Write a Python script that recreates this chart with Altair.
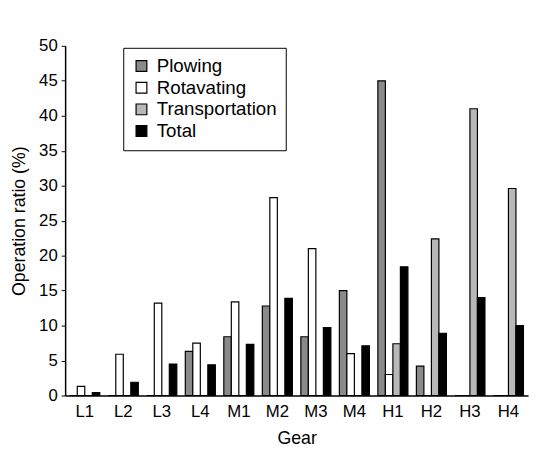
import altair as alt
import pandas as pd

gears = ["L1", "L2", "L3", "L4", "M1", "M2", "M3", "M4", "H1", "H2", "H3", "H4"]
series = ["Plowing", "Rotavating", "Transportation", "Total"]
plowing = [0, 0, 0, 6.3, 8.4, 12.8, 8.4, 15.0, 45.0, 4.2, 0, 0]
rotavating = [1.3, 5.9, 13.2, 7.5, 13.4, 28.3, 21.0, 6.0, 3.0, 0, 0, 0]
transportation = [0, 0, 0, 0, 0, 0, 0, 0, 7.4, 22.4, 41.0, 29.6]
total = [0.4, 1.9, 4.5, 4.4, 7.3, 13.9, 9.7, 7.1, 18.4, 8.9, 14.0, 10.0]

rows = []
for name, vals in zip(series, [plowing, rotavating, transportation, total]):
    for g, v in zip(gears, vals):
        rows.append({"Gear": g, "Series": name, "Value": v})
df = pd.DataFrame(rows)

font = "Liberation Sans"

chart = alt.Chart(df).mark_bar(stroke="black", strokeWidth=1.2).encode(
    x=alt.X("Gear:N", sort=gears, title="Gear",
            scale=alt.Scale(paddingInner=0.22, paddingOuter=0.12),
            axis=alt.Axis(labelAngle=0, ticks=False, domainColor="black",
                          domainWidth=1.5, labelFontSize=17, titleFontSize=18,
                          labelColor="black", titleColor="black",
                          labelFont=font, titleFont=font, labelPadding=8,
                          titleFontWeight="normal", titlePadding=11)),
    xOffset=alt.XOffset("Series:N", sort=series),
    y=alt.Y("Value:Q", title="Operation ratio (%)",
            scale=alt.Scale(domain=[0, 50], nice=False),
            axis=alt.Axis(values=list(range(0, 51, 5)), grid=False,
                          domainColor="black", domainWidth=1.5, tickColor="black",
                          tickSize=4, labelFontSize=17, titleFontSize=18,
                          labelColor="black", titleColor="black",
                          labelFont=font, titleFont=font, labelPadding=4,
                          titleFontWeight="normal", titlePadding=10)),
    fill=alt.Fill("Series:N", sort=series,
                  scale=alt.Scale(domain=series,
                                  range=["#8a8a8a", "#ffffff", "#b8b8b8", "#000000"]),
                  legend=alt.Legend(title=None, orient="none", legendX=59, legendY=2,
                                    strokeColor="black", padding=9,
                                    symbolType="square", symbolSize=120,
                                    symbolStrokeColor="black", symbolStrokeWidth=1.2,
                                    symbolOffset=0, labelOffset=6,
                                    labelFontSize=19, labelFont=font,
                                    labelColor="black", rowPadding=2)),
).properties(
    width=470, height=355,
    autosize=alt.AutoSizeParams(type="none"),
    padding={"left": 58, "top": 35, "right": 5, "bottom": 58},
).configure_view(stroke=None)

chart.save("out.html", embed_options={"renderer": "svg", "actions": False})
